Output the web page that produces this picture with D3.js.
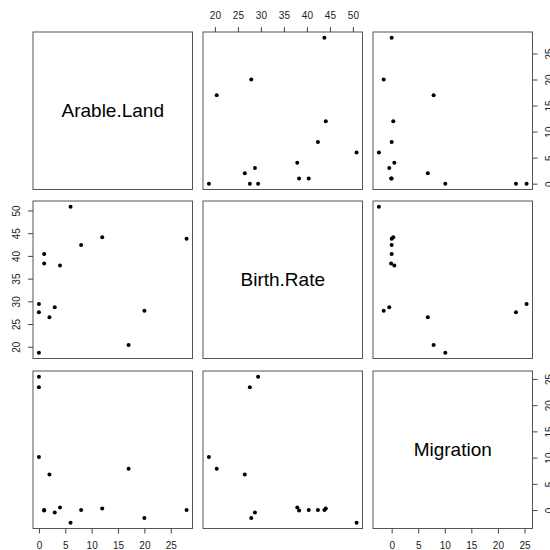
<!DOCTYPE html>
<html><head><meta charset="utf-8">
<script src="https://cdn.jsdelivr.net/npm/d3@7"></script>
<style>body{margin:0;background:#fff}svg{display:block}</style>
</head><body>
<script>
const varNames = ["Arable.Land", "Birth.Rate", "Migration"];
const arableLand = [0, 0, 0, 1, 1, 2, 3, 4, 6, 8, 12, 17, 20, 28];
const birthRate = [18.7, 27.6, 29.4, 40.4, 38.3, 26.5, 28.7, 37.9, 50.8, 42.4, 44.1, 20.4, 27.9, 43.8];
const migration = [10.1, 23.4, 25.4, 0.0, -0.1, 6.8, -0.45, 0.5, -2.4, 0.0, 0.3, 7.9, -1.5, 0.0];
const arableTicks = [0, 5, 10, 15, 20, 25];
const birthTicks = [20, 25, 30, 35, 40, 45, 50];
const migrationTicks = [0, 5, 10, 15, 20, 25];

const cols = [arableLand, birthRate, migration];
const ticksList = [arableTicks, birthTicks, migrationTicks];

const W = 550, H = 550;
const colX = [33, 203, 373], colW = 159.5;
const rowY = [32, 201, 371], rowH = 157.5;

const svg = d3.select("body").append("svg").attr("width", W).attr("height", H);

function dom(v) {
  const [a, b] = d3.extent(v); const p = (b - a) * 0.04; return [a - p, b + p];
}
const xs = cols.map((v, i) => d3.scaleLinear().domain(dom(v)).range([colX[i], colX[i] + colW]));
const ys = cols.map((v, i) => d3.scaleLinear().domain(dom(v)).range([rowY[i] + rowH, rowY[i]]));

const font = "Liberation Sans, Arial, sans-serif";
const axisColor = "#444";

for (let r = 0; r < 3; r++) {
  for (let c = 0; c < 3; c++) {
    const g = svg.append("g");
    g.append("rect").attr("x", colX[c]).attr("y", rowY[r]).attr("width", colW).attr("height", rowH)
      .attr("fill", "none").attr("stroke", "#555").attr("stroke-width", 1);
    if (r === c) {
      g.append("text").attr("x", colX[c] + colW / 2).attr("y", rowY[r] + rowH / 2)
        .attr("text-anchor", "middle").attr("dominant-baseline", "central")
        .attr("font-family", font).attr("font-size", 19).attr("fill", "#000")
        .text(varNames[r]);
    } else {
      const xv = cols[c], yv = cols[r];
      g.selectAll("circle").data(d3.range(xv.length)).join("circle")
        .attr("cx", i => xs[c](xv[i])).attr("cy", i => ys[r](yv[i]))
        .attr("r", 2).attr("fill", "#000");
    }
  }
}

function styleAxis(g) {
  g.select(".domain").remove();
  g.selectAll(".tick line").attr("stroke", axisColor);
  g.selectAll(".tick text").attr("font-family", font).attr("font-size", 10).attr("fill", "#222");
}
// Bottom axes: columns 0 and 2
[0, 2].forEach(c => {
  const g = svg.append("g").attr("transform", `translate(0,${rowY[2] + rowH})`)
    .call(d3.axisBottom(xs[c]).tickValues(ticksList[c]).tickSize(5).tickPadding(8).tickFormat(d3.format("d")));
  styleAxis(g);
});
// Top axis: column 1
{
  const g = svg.append("g").attr("transform", `translate(0,${rowY[0]})`)
    .call(d3.axisTop(xs[1]).tickValues(ticksList[1]).tickSize(5).tickPadding(8).tickFormat(d3.format("d")));
  styleAxis(g);
}
// Left axis: row 1, rotated labels
{
  const g = svg.append("g").attr("transform", `translate(${colX[0]},0)`)
    .call(d3.axisLeft(ys[1]).tickValues(ticksList[1]).tickSize(5).tickFormat(d3.format("d")));
  styleAxis(g);
  g.selectAll(".tick text").attr("x", null).attr("dy", null)
    .attr("transform", "translate(-16.5,0) rotate(-90)")
    .attr("text-anchor", "middle").attr("dominant-baseline", "central");
}
// Right axes: rows 0 and 2
[0, 2].forEach(r => {
  const g = svg.append("g").attr("transform", `translate(${colX[2] + colW},0)`)
    .call(d3.axisRight(ys[r]).tickValues(ticksList[r]).tickSize(5).tickFormat(d3.format("d")));
  styleAxis(g);
  g.selectAll(".tick text").attr("x", null).attr("dy", null)
    .attr("transform", "translate(16.5,0) rotate(-90)")
    .attr("text-anchor", "middle").attr("dominant-baseline", "central");
});
</script>
</body></html>
